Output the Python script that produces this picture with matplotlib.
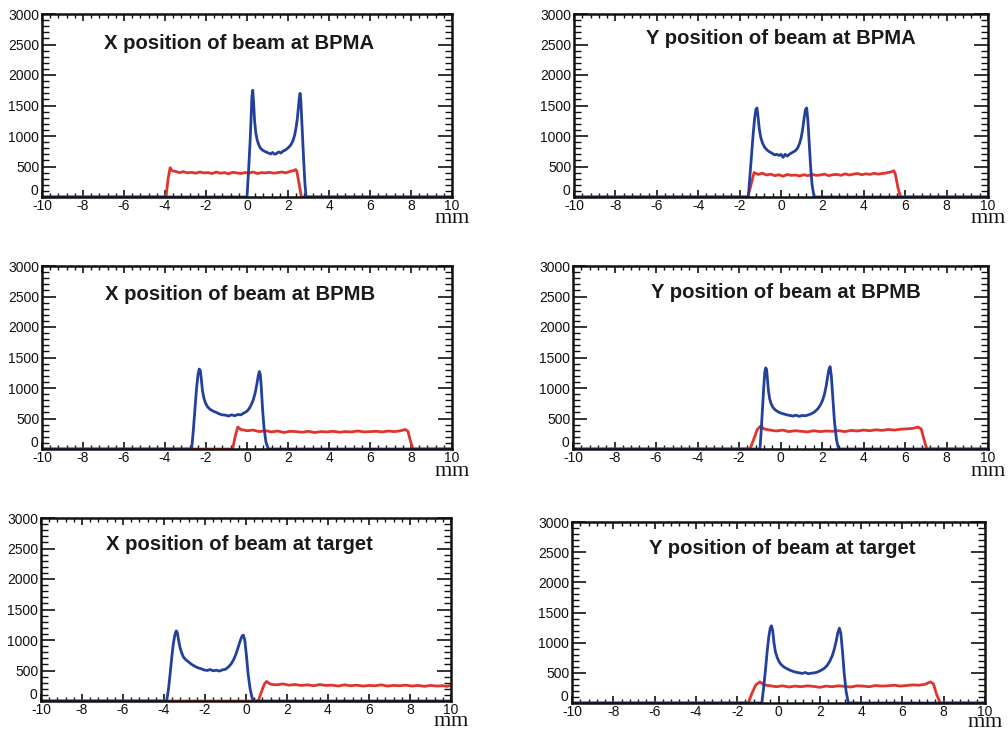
import matplotlib
matplotlib.use('Agg')
import matplotlib.pyplot as plt
from matplotlib.ticker import MultipleLocator, FuncFormatter

plt.rcParams['font.family'] = ['Liberation Sans', 'DejaVu Sans']
plt.rcParams['axes.unicode_minus'] = False
plt.rcParams['mathtext.fontset'] = 'custom'
plt.rcParams['mathtext.rm'] = 'Liberation Serif'

BLUE = '#23409a'
RED = '#e0342c'

titles = ["X position of beam at BPMA", "Y position of beam at BPMA",
          "X position of beam at BPMB", "Y position of beam at BPMB",
          "X position of beam at target", "Y position of beam at target"]

# ---- X at BPMA ----
xa_blue_x = [-10, 0.0, 0.08, 0.15, 0.2, 0.24, 0.28, 0.32, 0.37, 0.43, 0.5, 0.58, 0.66, 0.75, 0.85, 0.95, 1.05, 1.15, 1.25, 1.35,
             1.45, 1.55, 1.65, 1.75, 1.85, 1.95, 2.05, 2.15, 2.25, 2.33, 2.4, 2.46, 2.51, 2.55, 2.59, 2.63, 2.68, 2.75, 2.82, 2.88, 10]
xa_blue_y = [0, 0, 450, 900, 1300, 1650, 1750, 1560, 1250, 1050, 930, 850, 800, 770, 750, 735, 720, 705, 730, 700,
             715, 740, 720, 750, 765, 790, 820, 860, 930, 1020, 1150, 1300, 1480, 1620, 1700, 1560, 1200, 700, 250, 0, 0]
xa_red_x = [-10, -3.95, -3.85, -3.75, -3.65, -3.5, -3.3, -3.1, -2.9, -2.7, -2.5, -2.3, -2.1, -1.9, -1.7, -1.5, -1.3, -1.1, -0.9, -0.7,
            -0.5, -0.3, -0.1, 0.1, 0.3, 0.5, 0.7, 0.9, 1.1, 1.3, 1.5, 1.7, 1.9, 2.1, 2.25, 2.38, 2.43, 2.55, 2.65, 10]
xa_red_y = [0, 0, 300, 480, 430, 420, 400, 415, 395, 405, 390, 410, 395, 400, 385, 410, 390, 400, 380, 405,
            395, 385, 400, 390, 410, 385, 400, 395, 405, 390, 400, 410, 395, 420, 430, 450, 420, 200, 0, 0]

# ---- Y at BPMA ----
ya_blue_x = [-10, -1.58, -1.5, -1.42, -1.34, -1.27, -1.21, -1.16, -1.11, -1.05, -0.98, -0.9, -0.8, -0.7, -0.6, -0.5, -0.4, -0.3, -0.2, -0.1,
             0.0, 0.1, 0.2, 0.3, 0.4, 0.5, 0.6, 0.7, 0.8, 0.9, 0.98, 1.05, 1.12, 1.18, 1.24, 1.3, 1.36, 1.43, 1.5, 1.6, 10]
ya_blue_y = [0, 0, 350, 700, 1050, 1300, 1440, 1460, 1320, 1120, 980, 890, 820, 780, 750, 730, 710, 690, 700, 680,
             700, 650, 700, 670, 700, 720, 740, 760, 800, 880, 980, 1120, 1300, 1430, 1460, 1250, 900, 500, 200, 0, 0]
ya_red_x = [-10, -1.6, -1.45, -1.3, -1.1, -0.9, -0.7, -0.5, -0.3, -0.1, 0.1, 0.3, 0.5, 0.7, 0.9, 1.1, 1.3, 1.5, 1.7, 1.9,
            2.1, 2.3, 2.5, 2.7, 2.9, 3.1, 3.3, 3.5, 3.7, 3.9, 4.1, 4.3, 4.5, 4.7, 4.9, 5.1, 5.3, 5.45, 5.52, 5.65, 5.78, 10]
ya_red_y = [0, 0, 200, 400, 370, 390, 360, 375, 350, 365, 340, 370, 355, 360, 345, 365, 350, 370, 355, 360,
            375, 350, 365, 370, 355, 380, 360, 375, 385, 365, 380, 370, 390, 375, 385, 395, 410, 430, 380, 150, 0, 0]

# ---- X at BPMB ----
xb_blue_x = [-10, -2.7, -2.62, -2.54, -2.46, -2.39, -2.33, -2.28, -2.23, -2.17, -2.1, -2.02, -1.92, -1.8, -1.65, -1.5, -1.35, -1.2, -1.05, -0.9,
             -0.75, -0.6, -0.45, -0.3, -0.15, 0.0, 0.1, 0.2, 0.3, 0.4, 0.48, 0.55, 0.6, 0.65, 0.7, 0.76, 0.83, 0.92, 1.04, 10]
xb_blue_y = [0, 0, 300, 650, 1000, 1220, 1310, 1290, 1150, 950, 830, 750, 690, 650, 620, 600, 575, 560, 555, 540,
             560, 545, 565, 560, 590, 620, 660, 720, 800, 920, 1060, 1200, 1270, 1220, 1000, 650, 350, 120, 0, 0]
xb_red_x = [-10, -0.7, -0.58, -0.45, -0.3, 0.0, 0.3, 0.6, 0.9, 1.2, 1.5, 1.8, 2.1, 2.4, 2.7, 3.0, 3.3, 3.6, 3.9, 4.2,
            4.5, 4.8, 5.1, 5.4, 5.7, 6.0, 6.3, 6.6, 6.9, 7.2, 7.5, 7.72, 7.85, 7.98, 8.1, 10]
xb_red_y = [0, 0, 200, 360, 320, 300, 310, 285, 300, 280, 295, 270, 290, 285, 275, 290, 270, 285, 280, 290,
            275, 285, 280, 295, 280, 285, 290, 280, 295, 285, 300, 320, 290, 120, 0, 0]

# ---- Y at BPMB ----
yb_blue_x = [-10, -0.99, -0.93, -0.87, -0.81, -0.76, -0.71, -0.67, -0.63, -0.58, -0.52, -0.45, -0.36, -0.25, -0.12, 0.0, 0.15, 0.3, 0.45, 0.6,
             0.75, 0.9, 1.05, 1.2, 1.35, 1.5, 1.65, 1.8, 1.92, 2.03, 2.12, 2.2, 2.27, 2.33, 2.39, 2.45, 2.52, 2.6, 2.7, 2.8, 10]
yb_blue_y = [0, 0, 300, 650, 1000, 1250, 1330, 1300, 1150, 950, 820, 740, 680, 640, 610, 590, 575, 560, 550, 540,
             555, 535, 550, 545, 560, 580, 610, 660, 720, 800, 900, 1030, 1180, 1300, 1350, 1200, 850, 450, 150, 0, 0]
yb_red_x = [-10, -1.47, -1.3, -1.12, -0.95, -0.8, -0.5, -0.2, 0.1, 0.4, 0.7, 1.0, 1.3, 1.6, 1.9, 2.2, 2.5, 2.8, 3.1, 3.4,
            3.7, 4.0, 4.3, 4.6, 4.9, 5.2, 5.5, 5.8, 6.1, 6.4, 6.62, 6.78, 6.92, 7.05, 10]
yb_red_y = [0, 0, 150, 320, 380, 330, 310, 295, 310, 285, 300, 290, 280, 300, 285, 295, 290, 300, 285, 305,
            295, 310, 300, 315, 305, 320, 310, 325, 330, 340, 360, 330, 150, 0, 0]

# ---- X at target ----
xt_blue_x = [-10, -3.87, -3.78, -3.7, -3.62, -3.54, -3.46, -3.4, -3.35, -3.29, -3.22, -3.14, -3.05, -2.95, -2.8, -2.65, -2.5, -2.35, -2.2, -2.05,
             -1.9, -1.75, -1.6, -1.45, -1.3, -1.15, -1.0, -0.85, -0.72, -0.6, -0.5, -0.4, -0.3, -0.2, -0.13, -0.06, 0.02, 0.1, 0.2, 0.3, 0.36, 10]
xt_blue_y = [0, 0, 200, 450, 720, 950, 1100, 1150, 1120, 1000, 880, 790, 720, 680, 640, 600, 570, 545, 530, 510,
             500, 515, 495, 505, 490, 510, 520, 560, 610, 680, 760, 860, 970, 1060, 1080, 1000, 750, 450, 200, 50, 0, 0]
xt_red_x = [-10, 0.6, 0.75, 0.9, 1.0, 1.2, 1.5, 1.8, 2.1, 2.4, 2.7, 3.0, 3.3, 3.6, 3.9, 4.2, 4.5, 4.8, 5.1, 5.4,
            5.7, 6.0, 6.3, 6.6, 6.9, 7.2, 7.5, 7.8, 8.1, 8.4, 8.7, 9.0, 9.3, 9.6, 9.8, 10]
xt_red_y = [0, 0, 150, 280, 320, 275, 265, 280, 260, 270, 255, 265, 250, 270, 255, 260, 245, 265, 250, 260,
            245, 255, 250, 265, 245, 255, 250, 260, 245, 255, 240, 255, 245, 250, 240, 255]

# ---- Y at target ----
yt_blue_x = [-10, -0.81, -0.72, -0.63, -0.55, -0.47, -0.4, -0.34, -0.28, -0.22, -0.15, -0.07, 0.02, 0.12, 0.25, 0.4, 0.55, 0.7, 0.85, 1.0,
             1.15, 1.3, 1.45, 1.6, 1.75, 1.9, 2.05, 2.2, 2.35, 2.48, 2.6, 2.7, 2.79, 2.87, 2.95, 3.02, 3.1, 3.18, 3.27, 3.38, 10]
yt_blue_y = [0, 0, 250, 550, 850, 1100, 1240, 1280, 1200, 1000, 850, 760, 690, 640, 600, 570, 545, 525, 510, 500,
             490, 505, 485, 495, 500, 515, 540, 570, 620, 690, 780, 890, 1020, 1160, 1240, 1150, 850, 500, 200, 0, 0]
yt_red_x = [-10, -1.46, -1.3, -1.1, -0.9, -0.7, -0.4, -0.1, 0.2, 0.5, 0.8, 1.1, 1.4, 1.7, 2.0, 2.3, 2.6, 2.9, 3.2, 3.5,
            3.8, 4.1, 4.4, 4.7, 5.0, 5.3, 5.6, 5.9, 6.2, 6.5, 6.8, 7.1, 7.35, 7.5, 7.65, 7.83, 10]
yt_red_y = [0, 0, 150, 300, 350, 300, 285, 270, 285, 265, 280, 270, 285, 275, 260, 280, 270, 285, 275, 265,
            285, 280, 270, 290, 280, 285, 295, 280, 290, 300, 295, 310, 350, 320, 150, 0, 0]

series = [
    (xa_blue_x, xa_blue_y, xa_red_x, xa_red_y),
    (ya_blue_x, ya_blue_y, ya_red_x, ya_red_y),
    (xb_blue_x, xb_blue_y, xb_red_x, xb_red_y),
    (yb_blue_x, yb_blue_y, yb_red_x, yb_red_y),
    (xt_blue_x, xt_blue_y, xt_red_x, xt_red_y),
    (yt_blue_x, yt_blue_y, yt_red_x, yt_red_y),
]

W, H = 1008, 733
# panel boxes in pixels: left, bottom, right, top
boxes = [(42, 197, 452, 14), (574, 197, 988, 14),
         (42, 449, 452, 266), (573, 449, 988, 266),
         (41, 701, 451, 518), (572, 703, 985, 522)]
title_pos = [(0.48, 0.807), (0.499, 0.836), (0.483, 0.814),
             (0.514, 0.827), (0.485, 0.825), (0.51, 0.821)]
mm_y = [-0.142, -0.142, -0.145, -0.145, -0.137, -0.135]

yfmt = FuncFormatter(lambda v, p: '' if v == 0 else '%d' % v)

fig = plt.figure(figsize=(W / 100, H / 100), dpi=100)

for i, (box, ser, title, tp, my) in enumerate(zip(boxes, series, titles, title_pos, mm_y)):
    l, b, r, t = box
    ax = fig.add_axes([l / W, 1 - b / H, (r - l) / W, (b - t) / H])
    bx, by, rx, ry = ser
    ax.plot(rx, ry, color=RED, lw=2.0, solid_joinstyle='round')
    ax.plot(bx, by, color=BLUE, lw=2.0, solid_joinstyle='round')
    ax.set_xlim(-10, 10)
    ax.set_ylim(0, 3000)
    ax.xaxis.set_major_locator(MultipleLocator(2))
    ax.xaxis.set_minor_locator(MultipleLocator(0.4))
    ax.yaxis.set_major_locator(MultipleLocator(500))
    ax.yaxis.set_minor_locator(MultipleLocator(100))
    ax.yaxis.set_major_formatter(yfmt)
    ax.tick_params(which='both', direction='in', top=True, right=True, colors='#111111')
    ax.tick_params(axis='x', which='major', length=5, width=1.2, pad=1.5, labelsize=10)
    ax.tick_params(axis='x', which='minor', length=3, width=1.0)
    ax.tick_params(axis='y', which='major', length=10, width=1.2, pad=2, labelsize=10)
    ax.tick_params(axis='y', which='minor', length=5, width=1.0)
    for s in ax.spines.values():
        s.set_linewidth(1.8)
        s.set_color('#111111')
    # y "0" label, lifted slightly above the "-10" x label (ROOT-like corner)
    ax.annotate('0', xy=(0, 0), xycoords='axes fraction', xytext=(-2.5, 4.0),
                textcoords='offset points', ha='right', va='center', fontsize=10, color='#111111')
    ax.text(tp[0], tp[1], title, transform=ax.transAxes, ha='center', va='baseline',
            fontsize=14.6, fontweight='bold', color='#1a1a1a')
    ax.text(0.957, my, r'$\mathrm{mm}$', transform=ax.transAxes, ha='left', va='baseline',
            fontsize=16, color='#111111')

fig.savefig('out.png', dpi=100)
